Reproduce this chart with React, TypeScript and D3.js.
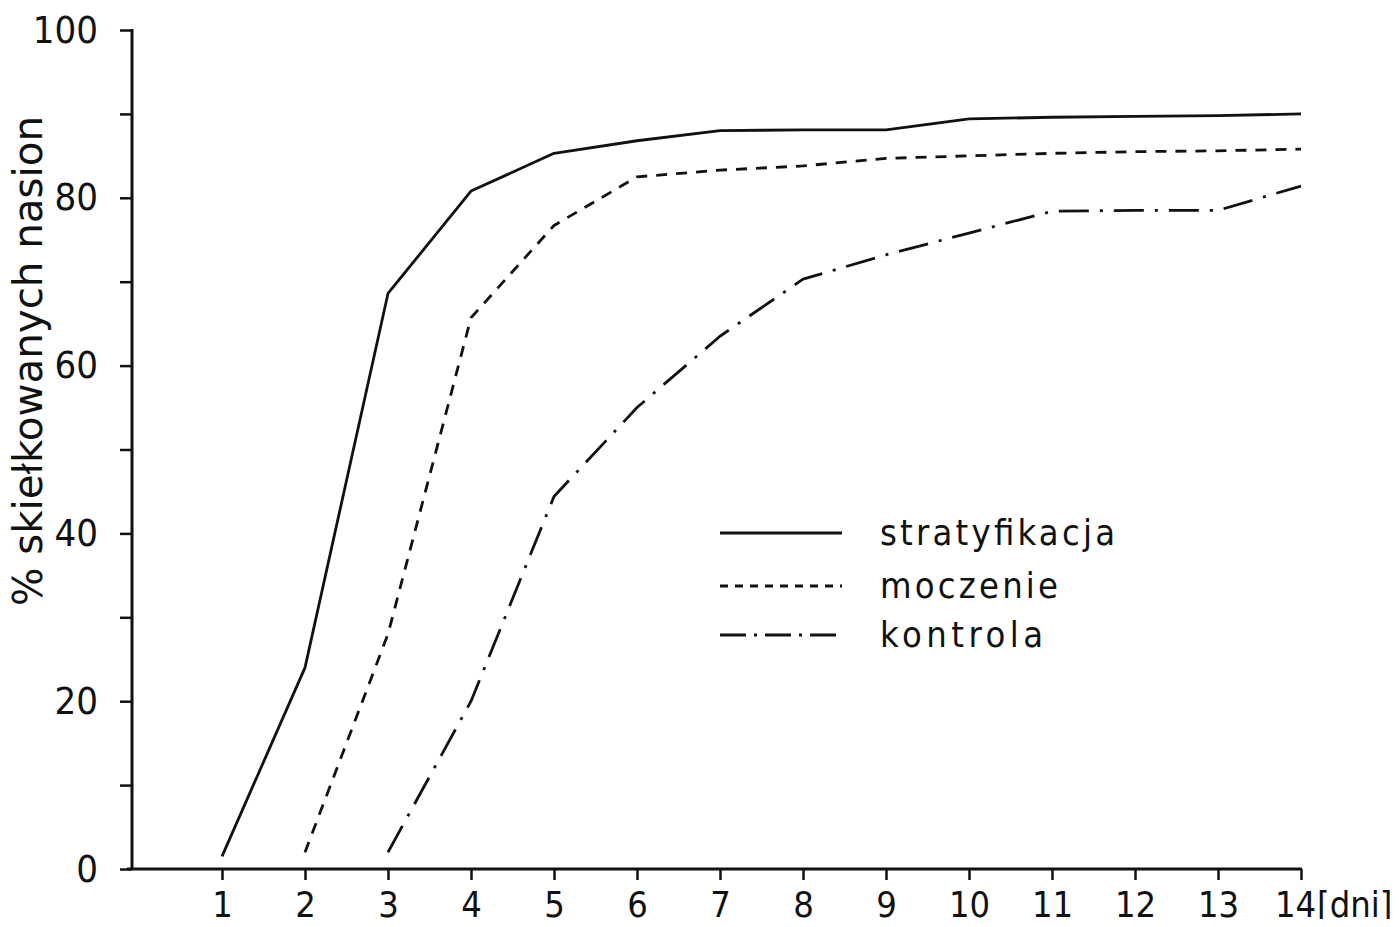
import React, { useEffect, useRef } from 'react';
import * as d3 from 'd3';

// days on the x axis
const days = [1, 2, 3, 4, 5, 6, 7, 8, 9, 10, 11, 12, 13, 14];
const yTicks = [0, 10, 20, 30, 40, 50, 60, 70, 80, 90, 100];

// % germinated seeds
const stratyfikacja = [1.5, 24, 68.6, 80.8, 85.3, 86.8, 88, 88.1, 88.1, 89.4, 89.6, 89.7, 89.8, 90];
const moczenieDays = [2, 3, 4, 5, 6, 7, 8, 9, 10, 11, 12, 13, 14];
const moczenie = [2, 28, 65.7, 76.7, 82.5, 83.3, 83.8, 84.7, 85, 85.3, 85.5, 85.6, 85.8];
const kontrolaDays = [3, 4, 5, 6, 7, 8, 9, 10, 11, 12, 13, 14];
const kontrola = [2, 20, 44.4, 55, 63.5, 70.3, 73.2, 75.8, 78.4, 78.5, 78.5, 81.4];

const legendLabels = ['stratyfikacja', 'moczenie', 'kontrola'];

const FONT = "'Liberation Sans Narrow', 'DejaVu Sans Condensed', 'DejaVu Sans', sans-serif";

const App = () => {
    const svgRef = useRef(null);

    useEffect(() => {
        const width = 1399;
        const height = 927;
        const axisX = 132;

        const svg = d3.select(svgRef.current)
            .attr('width', width)
            .attr('height', height)
            .style('display', 'block')
            .style('background', '#fff');

        svg.selectAll('*').remove();

        const x = d3.scaleLinear().domain([0, 14]).range([139, 1301]);
        const y = d3.scaleLinear().domain([0, 100]).range([869, 30]);

        // y axis
        const gy = svg.append('g')
            .attr('transform', `translate(${axisX},0)`)
            .call(d3.axisLeft(y).tickValues(yTicks).tickSize(12).tickPadding(22)
                .tickFormat((d) => (d % 20 === 0 ? String(d) : '')));
        gy.select('.domain').remove();
        gy.selectAll('line').attr('stroke', '#111').attr('stroke-width', 2.5);
        gy.selectAll('text')
            .attr('fill', '#111')
            .style('font-family', FONT)
            .style('font-size', '38px');
        svg.append('line')
            .attr('x1', axisX).attr('x2', axisX)
            .attr('y1', y(100) - 1).attr('y2', y(0) + 1)
            .attr('stroke', '#111').attr('stroke-width', 3);

        // x axis
        const gx = svg.append('g')
            .attr('transform', `translate(0,${y(0)})`)
            .call(d3.axisBottom(x).tickValues(days).tickSize(11).tickPadding(11));
        gx.select('.domain').remove();
        gx.selectAll('line').attr('stroke', '#111').attr('stroke-width', 2.5);
        gx.selectAll('text')
            .attr('fill', '#111')
            .attr('dx', (d) => (d === 14 ? -6 : 0))
            .style('font-family', FONT)
            .style('font-size', '36px');
        svg.append('line')
            .attr('x1', axisX - 5).attr('x2', x(14) + 1)
            .attr('y1', y(0)).attr('y2', y(0))
            .attr('stroke', '#111').attr('stroke-width', 3);

        svg.append('text')
            .attr('x', x(14) + 16)
            .attr('y', y(0) + 11 + 11 + 25.5)
            .attr('fill', '#111')
            .style('font-family', FONT)
            .style('font-size', '36px')
            .text('[dni]');

        // y label
        svg.append('text')
            .attr('transform', 'translate(42,361) rotate(-90)')
            .attr('text-anchor', 'middle')
            .attr('fill', '#111')
            .attr('textLength', 490)
            .attr('lengthAdjust', 'spacingAndGlyphs')
            .style('font-family', FONT)
            .style('font-size', '40px')
            .text('% skiełkowanych nasion');

        const line = d3.line().x((d) => x(d[0])).y((d) => y(d[1]));

        const series = [
            { pts: days.map((d, i) => [d, stratyfikacja[i]]), dash: null },
            { pts: moczenieDays.map((d, i) => [d, moczenie[i]]), dash: '11,9' },
            { pts: kontrolaDays.map((d, i) => [d, kontrola[i]]), dash: '30,11,3,11' },
        ];

        series.forEach((s) => {
            svg.append('path')
                .attr('d', line(s.pts))
                .attr('fill', 'none')
                .attr('stroke', '#111')
                .attr('stroke-width', 2.8)
                .attr('stroke-linejoin', 'round')
                .attr('stroke-dasharray', s.dash);
        });

        // legend
        const legendDash = [null, '8,7', '26,8,3,8'];
        const legendY = [533, 586, 635];
        const legendLen = [235, 178, 163];
        legendLabels.forEach((label, i) => {
            svg.append('line')
                .attr('x1', 720).attr('x2', 842)
                .attr('y1', legendY[i]).attr('y2', legendY[i])
                .attr('stroke', '#111')
                .attr('stroke-width', 3)
                .attr('stroke-dasharray', legendDash[i]);
            svg.append('text')
                .attr('x', 880)
                .attr('y', legendY[i] + 12)
                .attr('fill', '#111')
                .attr('textLength', legendLen[i])
                .attr('lengthAdjust', 'spacing')
                .style('font-family', FONT)
                .style('font-size', '36px')
                .text(label);
        });
    }, []);

    return (
        <div style={{ margin: -8 }}>
            <svg ref={svgRef}></svg>
        </div>
    );
};

export default App;
